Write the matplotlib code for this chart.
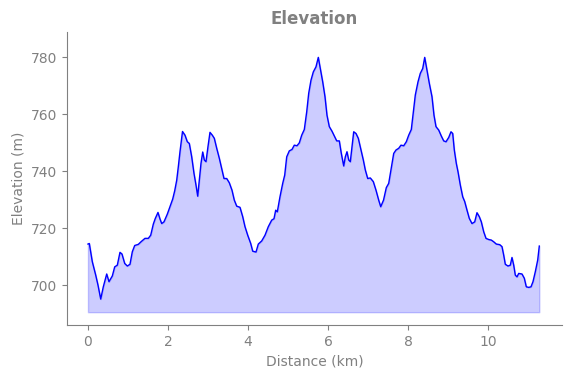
import matplotlib
matplotlib.use("Agg")
import matplotlib.pyplot as plt

distance_km = [0.0, 0.033, 0.108, 0.193, 0.25, 0.318, 0.383, 0.468, 0.525, 0.608, 0.668, 0.733, 0.8, 0.85,
    0.918, 0.983, 1.05, 1.108, 1.168, 1.258, 1.333, 1.425, 1.508, 1.568, 1.633, 1.683, 1.75, 1.8,
    1.843, 1.9, 1.983, 2.05, 2.118, 2.168, 2.218, 2.258, 2.3, 2.363, 2.425, 2.483, 2.533, 2.593,
    2.65, 2.7, 2.743, 2.783, 2.825, 2.868, 2.908, 2.95, 3.0, 3.05, 3.108, 3.158, 3.218, 3.283,
    3.343, 3.4, 3.468, 3.533, 3.6, 3.658, 3.718, 3.8, 3.868, 3.925, 3.993, 4.068, 4.118, 4.2,
    4.258, 4.343, 4.425, 4.508, 4.593, 4.65, 4.693, 4.733, 4.8, 4.868, 4.918, 4.968, 5.033, 5.1,
    5.158, 5.225, 5.283, 5.343, 5.408, 5.468, 5.518, 5.575, 5.633, 5.7, 5.758, 5.808, 5.868,
    5.925, 5.975, 6.033, 6.1, 6.158, 6.218, 6.283, 6.333, 6.393, 6.433, 6.475, 6.518, 6.558,
    6.6, 6.643, 6.7, 6.758, 6.825, 6.883, 6.933, 6.993, 7.058, 7.133, 7.2, 7.268, 7.318, 7.388,
    7.458, 7.518, 7.575, 7.643, 7.7, 7.768, 7.825, 7.893, 7.958, 8.018, 8.083, 8.125, 8.183,
    8.25, 8.308, 8.368, 8.418, 8.475, 8.533, 8.6, 8.65, 8.7, 8.768, 8.833, 8.893, 8.95, 9.018,
    9.075, 9.118, 9.158, 9.208, 9.25, 9.308, 9.368, 9.418, 9.475, 9.533, 9.6, 9.668, 9.725,
    9.783, 9.833, 9.893, 9.95, 10.018, 10.083, 10.143, 10.208, 10.293, 10.35, 10.393, 10.433,
    10.5, 10.558, 10.6, 10.643, 10.683, 10.725, 10.768, 10.85, 10.908, 10.958, 11.018, 11.075,
    11.125, 11.183, 11.243, 11.283]

elevation_m = [714.4, 714.6, 708.2, 703.5, 700.0, 695.1, 699.4, 703.9, 701.2, 703.2, 706.4, 707.0, 711.5, 710.9,
    707.6, 706.7, 707.3, 711.7, 713.9, 714.3, 715.3, 716.4, 716.4, 717.5, 721.4, 723.4, 725.5, 723.2,
    721.6, 722.2, 724.9, 727.5, 730.2, 733.1, 736.8, 741.5, 746.8, 753.9, 752.6, 750.3, 749.7, 745.0,
    739.2, 735.1, 731.2, 736.8, 742.7, 746.7, 743.9, 743.3, 748.6, 753.6, 752.6, 751.5, 748.0, 744.5,
    740.9, 737.4, 737.4, 735.9, 733.3, 729.8, 727.7, 727.3, 724.0, 720.5, 717.5, 714.6, 711.9, 711.6,
    714.4, 715.5, 717.5, 720.5, 722.8, 723.3, 726.3, 725.7, 731.0, 735.7, 738.6, 745.0, 747.1, 747.6,
    749.1, 748.9, 749.9, 752.6, 754.6, 760.8, 767.3, 771.9, 774.8, 776.6, 779.9, 776.0, 771.3,
    766.1, 759.6, 755.6, 754.0, 752.3, 750.6, 750.6, 746.2, 741.8, 745.0, 746.8, 743.9, 743.3,
    748.6, 753.8, 753.2, 751.5, 747.4, 743.9, 740.4, 737.4, 737.6, 736.3, 733.3, 729.8, 727.5, 729.8,
    734.2, 735.7, 740.4, 746.2, 747.4, 748.0, 749.1, 748.9, 750.3, 752.6, 754.6, 759.6, 766.7,
    771.3, 774.3, 776.0, 779.9, 775.4, 770.8, 766.1, 759.6, 755.6, 754.4, 752.3, 750.6, 750.3, 751.8,
    753.8, 753.2, 747.4, 742.7, 739.8, 735.1, 731.0, 729.3, 726.3, 723.4, 721.6, 722.2, 725.4,
    724.0, 722.2, 718.7, 716.4, 716.0, 715.8, 715.2, 714.4, 714.2, 713.5, 710.5, 707.3,
    706.7, 707.0, 709.7, 707.0, 703.5, 702.9, 704.1, 703.9, 702.4, 699.4, 699.2, 699.4,
    701.2, 704.7, 708.8, 713.7]

fill_base = 690.5
title = "Elevation"
xlabel = "Distance (km)"
ylabel = "Elevation (m)"

gray = "#808080"
fig = plt.figure(figsize=(5.71, 3.78), dpi=100)
ax = fig.add_axes([0.1173, 0.1402, 0.8669, 0.7751])

ax.fill_between(distance_km, elevation_m, fill_base, color="blue", alpha=0.2)
ax.plot(distance_km, elevation_m, color="blue", linewidth=1.0)

ax.set_xlim(-0.525, 11.85)
ax.set_ylim(686.0, 788.8)
ax.set_xticks([0, 2, 4, 6, 8, 10])
ax.set_yticks([700, 720, 740, 760, 780])

for s in ["top", "right"]:
    ax.spines[s].set_visible(False)
for s in ["left", "bottom"]:
    ax.spines[s].set_color(gray)
ax.tick_params(colors=gray, labelsize=10)
ax.set_xlabel(xlabel, color=gray, fontsize=10)
ax.set_ylabel(ylabel, color=gray, fontsize=10)
ax.set_title(title, color=gray, fontsize=12, fontweight="bold")

fig.savefig("out.png", dpi=100)
